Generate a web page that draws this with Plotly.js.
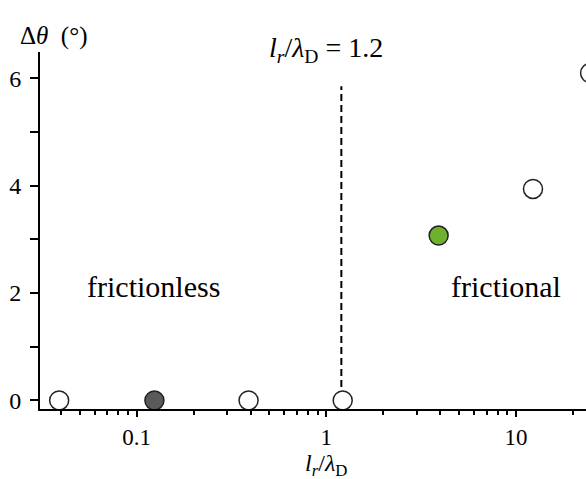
<!DOCTYPE html>
<html><head><meta charset="utf-8">
<script src="https://cdn.plot.ly/plotly-3.0.1.min.js"></script>
<style>html,body{margin:0;padding:0;background:#fff;overflow:hidden;width:586px;height:479px}</style>
</head><body>
<div id="chart" style="width:610px;height:479px"></div>
<script>
// data
const ratio = [0.039, 0.124, 0.389, 1.22, 3.91, 12.3, 24.6];
const dTheta = [0, 0, 0, 0, 3.07, 3.94, 6.10];
const fillColors = ['#ffffff', '#5a5a5a', '#ffffff', '#ffffff', '#6fb12e', '#ffffff', '#ffffff'];
const threshold = 1.2;
const thresholdY = [-0.16, 5.85];
const xMajor = [0.1, 1, 10];
const xMajorText = ['0.1', '1', '10'];
const xMinor = [0.04,0.05,0.06,0.07,0.08,0.09,0.2,0.3,0.4,0.5,0.6,0.7,0.8,0.9,2,3,4,5,6,7,8,9,20,30];
const yMajor = [0, 2, 4, 6];
const yMajorText = ['0', '2', '4', '6'];
const yMinor = [1, 3, 5];

const font = 'Liberation Serif';

const traces = [
  {x: [threshold, threshold], y: thresholdY, mode: 'lines', type: 'scatter',
   line: {color: '#000', width: 2, dash: '7px,4px'}, hoverinfo: 'skip', cliponaxis: false},
  {x: ratio, y: dTheta, mode: 'markers', type: 'scatter', cliponaxis: false,
   marker: {size: 19, color: fillColors, line: {color: '#222', width: 1.5}}}
];

const layout = {
  width: 610, height: 479,
  margin: {l: 40, r: 0, t: 52, b: 70},
  paper_bgcolor: '#fff', plot_bgcolor: '#fff',
  showlegend: false,
  font: {family: font, size: 24, color: '#000'},
  xaxis: {type: 'log', range: [-1.51, 1.496], showgrid: false, zeroline: false,
    showline: true, linecolor: '#000', linewidth: 2,
    ticks: 'outside', ticklen: 6, tickwidth: 2, tickcolor: '#000',
    tickvals: xMajor, ticktext: xMajorText, tickfont: {family: font, size: 23, color: '#000'},
    minor: {tickvals: xMinor, ticks: 'outside', ticklen: 4, tickwidth: 2, tickcolor: '#000', showgrid: false}},
  yaxis: {range: [-0.16, 6.49], showgrid: false, zeroline: false,
    showline: true, linecolor: '#000', linewidth: 2,
    ticks: 'outside', ticklen: 8, tickwidth: 2, tickcolor: '#000',
    tickvals: yMajor, ticktext: yMajorText, tickfont: {family: font, size: 24, color: '#000'}, ticklabelstandoff: 4,
    minor: {tickvals: yMinor, ticks: 'outside', ticklen: 8, tickwidth: 2, tickcolor: '#000', showgrid: false}},
  annotations: [
    {xref: 'paper', yref: 'paper', x: 0.0, y: 1.0, xshift: -22, yshift: 16, text: 'Δ<i>θ</i>  (°)', showarrow: false,
     xanchor: 'left', yanchor: 'middle', font: {family: font, size: 25, color: '#000'}},
    {xref: 'x', yref: 'paper', x: Math.log10(1), y: 1.0, yshift: 3, text: '<i>l<sub>r</sub></i>/<i>λ</i><sub>D</sub> = 1.2', showarrow: false,
     xanchor: 'center', yanchor: 'middle', font: {family: font, size: 28, color: '#000'}},
    {xref: 'x', yref: 'y', x: Math.log10(0.123), y: 2, yshift: 7, text: 'frictionless', showarrow: false,
     xanchor: 'center', yanchor: 'middle', font: {family: font, size: 30, color: '#000'}},
    {xref: 'x', yref: 'y', x: Math.log10(8.85), y: 2, yshift: 7, text: 'frictional', showarrow: false,
     xanchor: 'center', yanchor: 'middle', font: {family: font, size: 30, color: '#000'}},
    {xref: 'x', yref: 'paper', x: Math.log10(1), y: 0, yshift: -56, text: '<i>l<sub>r</sub></i>/<i>λ</i><sub>D</sub>', showarrow: false,
     xanchor: 'center', yanchor: 'middle', font: {family: font, size: 24, color: '#000'}}
  ]
};

Plotly.newPlot('chart', traces, layout, {displayModeBar: false, staticPlot: true});
</script>
</body></html>
